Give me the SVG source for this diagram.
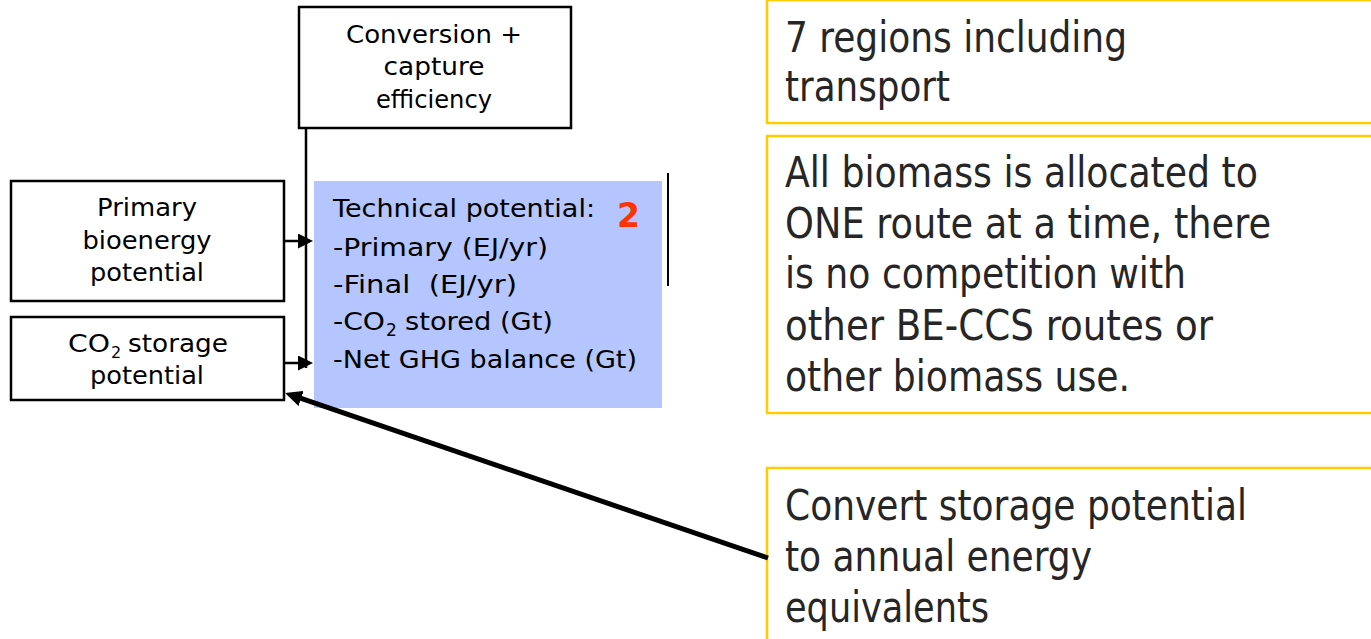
<svg xmlns="http://www.w3.org/2000/svg" width="1371" height="639" viewBox="0 0 1371 639">
<style>
.box{fill:#fff;stroke:#000;stroke-width:2.5}
.note{fill:#fff;stroke:#FFCC00;stroke-width:2.5}
.t{font-family:"DejaVu Sans","Verdana",sans-serif;font-size:24px;fill:#000}
.b{font-family:"DejaVu Sans","Verdana",sans-serif;font-size:25px;fill:#000}
.r{font-family:"DejaVu Sans Condensed","DejaVu Sans",sans-serif;font-size:42px;fill:#262626}
.c{text-anchor:middle}
.ln{stroke:#000;stroke-width:2.5;fill:none}
</style>
<defs>
<marker id="a" markerUnits="userSpaceOnUse" markerWidth="15" markerHeight="15" viewBox="0 0 15 15" refX="7" refY="7.5" orient="auto">
<path d="M0,0 L15,7.5 L0,15 z" fill="#000"/>
</marker>
<marker id="big" markerUnits="userSpaceOnUse" markerWidth="17" markerHeight="16" viewBox="0 0 17 16" refX="7" refY="8" orient="auto">
<path d="M0,0 L17,8 L0,16 z" fill="#000"/>
</marker>
</defs>

<g id="node-conversion">
<rect class="box" x="299" y="7" width="272" height="121"/>
<text class="t c" x="434" y="43" textLength="176" lengthAdjust="spacingAndGlyphs">Conversion +</text>
<text class="t c" x="434" y="75" textLength="101" lengthAdjust="spacingAndGlyphs">capture</text>
<text class="t c" x="434" y="108" textLength="116" lengthAdjust="spacingAndGlyphs">efficiency</text>
</g>

<g id="node-primary">
<rect class="box" x="11" y="181" width="273" height="120"/>
<text class="t c" x="147" y="216" textLength="100" lengthAdjust="spacingAndGlyphs">Primary</text>
<text class="t c" x="147" y="249" textLength="129" lengthAdjust="spacingAndGlyphs">bioenergy</text>
<text class="t c" x="147" y="281" textLength="114" lengthAdjust="spacingAndGlyphs">potential</text>
</g>

<g id="node-co2">
<rect class="box" x="11" y="317" width="273" height="83"/>
<text class="t" x="68" y="352" textLength="42" lengthAdjust="spacingAndGlyphs">CO</text>
<text class="t" x="111" y="358" style="font-size:16px">2</text>
<text class="t" x="128" y="352" textLength="100" lengthAdjust="spacingAndGlyphs">storage</text>
<text class="t c" x="147" y="384" textLength="114" lengthAdjust="spacingAndGlyphs">potential</text>
</g>

<g id="node-technical">
<rect x="314" y="181" width="348" height="227" fill="#B4C6FD"/>
<text class="b" x="333" y="217" textLength="262" lengthAdjust="spacingAndGlyphs">Technical potential:</text>
<text class="b" x="333" y="256" textLength="215" lengthAdjust="spacingAndGlyphs">-Primary (EJ/yr)</text>
<text class="b" x="333" y="293" textLength="184" lengthAdjust="spacingAndGlyphs" style="white-space:pre">-Final  (EJ/yr)</text>
<text class="b" x="333" y="330" textLength="52" lengthAdjust="spacingAndGlyphs">-CO</text>
<text class="b" x="386" y="336" style="font-size:17px">2</text>
<text class="b" x="405" y="330" textLength="148" lengthAdjust="spacingAndGlyphs">stored (Gt)</text>
<text class="b" x="333" y="368" textLength="304" lengthAdjust="spacingAndGlyphs">-Net GHG balance (Gt)</text>
<text x="617" y="227" font-family="DejaVu Sans, Verdana, sans-serif" font-weight="bold" font-size="33" fill="#FF3300">2</text>
</g>

<g id="note-regions">
<rect class="note" x="767" y="0" width="620" height="123"/>
<text class="r" x="785" y="52" textLength="342" lengthAdjust="spacingAndGlyphs">7 regions including</text>
<text class="r" x="785" y="101" textLength="165" lengthAdjust="spacingAndGlyphs">transport</text>
</g>

<g id="note-biomass">
<rect class="note" x="767" y="136" width="620" height="277"/>
<text class="r" x="785" y="187" textLength="473" lengthAdjust="spacingAndGlyphs">All biomass is allocated to</text>
<text class="r" x="785" y="238" textLength="486" lengthAdjust="spacingAndGlyphs">ONE route at a time, there</text>
<text class="r" x="785" y="288" textLength="401" lengthAdjust="spacingAndGlyphs">is no competition with</text>
<text class="r" x="785" y="340" textLength="428" lengthAdjust="spacingAndGlyphs">other BE-CCS routes or</text>
<text class="r" x="785" y="391" textLength="345" lengthAdjust="spacingAndGlyphs">other biomass use.</text>
</g>

<g id="note-convert">
<rect class="note" x="767" y="468" width="620" height="200"/>
<text class="r" x="785" y="520" textLength="462" lengthAdjust="spacingAndGlyphs">Convert storage potential</text>
<text class="r" x="785" y="571" textLength="307" lengthAdjust="spacingAndGlyphs">to annual energy</text>
<text class="r" x="785" y="622" textLength="204" lengthAdjust="spacingAndGlyphs">equivalents</text>
</g>

<g id="connectors">
<line class="ln" x1="306" y1="128" x2="306" y2="368"/>
<line class="ln" x1="284" y1="241" x2="305" y2="241" marker-end="url(#a)"/>
<line class="ln" x1="284" y1="363" x2="305" y2="363" marker-end="url(#a)"/>
<line x1="668" y1="173" x2="668" y2="286" stroke="#000" stroke-width="2"/>
<line x1="768" y1="558" x2="294.5" y2="396.2" stroke="#000" stroke-width="5" marker-end="url(#big)"/>
</g>
</svg>
